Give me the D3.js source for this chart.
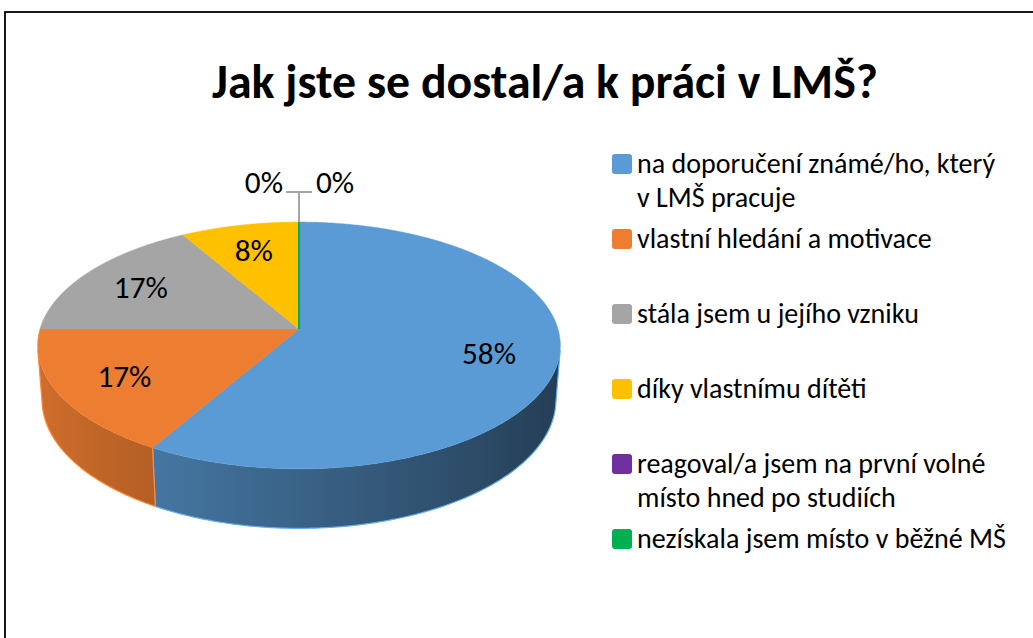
<!DOCTYPE html>
<html>
<head>
<meta charset="utf-8">
<script src="https://cdn.jsdelivr.net/npm/d3@7"></script>
<style>
  body { margin: 0; background: #fff; }
  svg { display: block; }
</style>
</head>
<body>
<svg id="chart" width="1033" height="638"></svg>
<script>
// chart data
var title = 'Jak jste se dostal/a k práci v LMŠ?';
var categories = [
  'na doporučení známé/ho, který\nv LMŠ pracuje',
  'vlastní hledání a motivace',
  'stála jsem u jejího vzniku',
  'díky vlastnímu dítěti',
  'reagoval/a jsem na první volné\nmísto hned po studiích',
  'nezískala jsem místo v běžné MŠ'
];
var counts = [7, 2, 2, 1, 0, 0];
var colors = ['#5b9bd5', '#ed7d31', '#a5a5a5', '#ffc000', '#7030a0', '#00b050'];

var FONT = 'Carlito, Lato, "Open Sans", sans-serif';
var svg = d3.select('#chart');
var defs = svg.append('defs');

// chart frame (runs off the right and bottom edge)
svg.append('rect')
  .attr('x', 5).attr('y', 12)
  .attr('width', 1100).attr('height', 700)
  .attr('fill', '#fff')
  .attr('stroke', '#000')
  .attr('stroke-width', 1.8);

// scale text so it spans a given width
function fitText (sel, target) {
  var w = sel.node().getComputedTextLength();
  var fs = parseFloat(sel.attr('font-size'));
  sel.attr('font-size', fs * target / w);
}

// title
var titleText = svg.append('text')
  .attr('x', 545).attr('y', 98)
  .attr('text-anchor', 'middle')
  .attr('font-family', FONT)
  .attr('font-weight', 'bold')
  .attr('font-size', 40)
  .attr('fill', '#000')
  .text(title);
fitText(titleText, 666);

// 3d pie projection
var tilt = 27.9 * Math.PI / 180;
var cosA = Math.cos(tilt), sinA = Math.sin(tilt);
var camDist = 6.62;
var thick = 0.24;
var xScale = d3.scaleLinear().domain([-1, 1]).range([40, 558]);
var yScale = d3.scaleLinear().domain([-1, 1]).range([588, 70]);

function project (theta, r, h) {
  var X = r * Math.sin(theta), Z = -r * Math.cos(theta), Y = h;
  var up = Y * cosA - Z * sinA;
  var depth = Y * sinA + Z * cosA;
  var f = camDist / (camDist - depth);
  return [xScale(X * f), yScale(up * f)];
}

// side shading, lit from the left
function shade (base, theta) {
  var f = 0.636 - 0.25 * Math.sin(theta);
  return d3.rgb(base.r * f, base.g * f, base.b * f).formatHex();
}

var pie = d3.pie().sort(null).value(function (d) { return d; });
var arcs = pie(counts);
var total = d3.sum(counts);
var pct = d3.format('.0%');
var line = d3.line();
var step = Math.PI / 360;

// visible part of the outer wall
var visMin = Math.acos(-1 / (camDist * cosA));
var visMax = 2 * Math.PI - visMin;

var walls = svg.append('g');
arcs.forEach(function (a, i) {
  var s = Math.max(a.startAngle, visMin), e = Math.min(a.endAngle, visMax);
  if (e <= s) return;
  var base = d3.rgb(colors[i]);
  var n = Math.ceil((e - s) / step);
  var topPts = [], botPts = [];
  for (var k = 0; k <= n; k++) {
    var t = s + (e - s) * k / n;
    topPts.push(project(t, 1, 0));
    botPts.push(project(t, 1, -thick));
  }
  // gradient along x following the shading
  var xs = topPts.map(function (p) { return p[0]; });
  var x0 = d3.min(xs), x1 = d3.max(xs);
  var grad = defs.append('linearGradient')
    .attr('id', 'wall' + i)
    .attr('gradientUnits', 'userSpaceOnUse')
    .attr('x1', x0).attr('x2', x1)
    .attr('y1', 0).attr('y2', 0);
  var stops = [];
  for (var k3 = 0; k3 <= n; k3 += 4) {
    var tt = s + (e - s) * k3 / n;
    stops.push({ o: (topPts[k3][0] - x0) / (x1 - x0 || 1), c: shade(base, tt) });
  }
  stops.sort(function (p, q) { return p.o - q.o; });
  grad.selectAll('stop').data(stops).enter().append('stop')
    .attr('offset', function (d) { return d.o; })
    .attr('stop-color', function (d) { return d.c; });
  walls.append('path')
    .attr('d', line(topPts.concat(botPts.slice().reverse())) + 'Z')
    .attr('fill', 'url(#wall' + i + ')');
  // wall outline
  walls.append('path')
    .attr('d', line([topPts[0]].concat(botPts, [topPts[n]])))
    .attr('fill', 'none')
    .attr('stroke', base.brighter(0.3).formatHex())
    .attr('stroke-width', 1.2);
});

// top faces
var tops = svg.append('g');
arcs.forEach(function (a, i) {
  if (a.endAngle - a.startAngle < 1e-6) return;
  var pts = [project(0, 0, 0)];
  var n = Math.ceil((a.endAngle - a.startAngle) / step);
  for (var k = 0; k <= n; k++) {
    pts.push(project(a.startAngle + (a.endAngle - a.startAngle) * k / n, 1, 0));
  }
  tops.append('path')
    .attr('d', line(pts) + 'Z')
    .attr('fill', colors[i])
    .attr('stroke', colors[i])
    .attr('stroke-width', 0.5);
});
// zero slices drawn as thin lines
arcs.forEach(function (a, i) {
  if (a.endAngle - a.startAngle >= 1e-6) return;
  tops.append('path')
    .attr('d', line([project(0, 0, 0), project(a.startAngle, 1, 0)]))
    .attr('stroke', colors[i])
    .attr('stroke-width', 2);
});

// data labels
var labels = svg.append('g')
  .attr('font-family', FONT)
  .attr('fill', '#000');
var labelSize = 28;
var probe = labels.append('text').attr('font-size', labelSize).text('58%');
labelSize = labelSize * 54 / probe.node().getComputedTextLength();
probe.remove();

var zeroIdx = [];
arcs.forEach(function (a, i) {
  if (counts[i] === 0) { zeroIdx.push(i); return; }
  var p = project((a.startAngle + a.endAngle) / 2, 0.74, 0);
  labels.append('text')
    .attr('x', p[0]).attr('y', p[1] + labelSize * 0.36)
    .attr('text-anchor', 'middle')
    .attr('font-size', labelSize)
    .text(pct(counts[i] / total));
});

// leader for the zero slices
if (zeroIdx.length) {
  var rim = project(arcs[zeroIdx[0]].startAngle, 1, 0);
  var ly = rim[1] - 30;
  svg.append('path')
    .attr('d', line([[rim[0], rim[1]], [rim[0], ly]]) + line([[rim[0] - 13, ly], [rim[0] + 13, ly]]))
    .attr('fill', 'none')
    .attr('stroke', '#a6a6a6')
    .attr('stroke-width', 2);
  zeroIdx.forEach(function (i, j) {
    labels.append('text')
      .attr('x', j === 0 ? rim[0] - 16 : rim[0] + 17)
      .attr('y', ly + 1)
      .attr('text-anchor', j === 0 ? 'end' : 'start')
      .attr('font-size', labelSize)
      .text(pct(counts[i] / total));
  });
}

// legend
var legendY = d3.scalePoint().domain(d3.range(categories.length)).range([164, 539]);
var legend = svg.append('g')
  .attr('font-family', FONT)
  .attr('fill', '#000');
var legendSize = 22;
var probe2 = legend.append('text').attr('font-size', legendSize).text(categories[5]);
legendSize = legendSize * 369 / probe2.node().getComputedTextLength();
probe2.remove();

categories.forEach(function (cat, i) {
  var y = legendY(i);
  legend.append('rect')
    .attr('x', 612).attr('y', y - 10)
    .attr('width', 20).attr('height', 20)
    .attr('rx', 3)
    .attr('fill', colors[i]);
  var t = legend.append('text')
    .attr('x', 637).attr('y', y + 9)
    .attr('font-size', legendSize);
  cat.split('\n').forEach(function (ln, k) {
    t.append('tspan')
      .attr('x', 637)
      .attr('dy', k === 0 ? 0 : 34)
      .text(ln);
  });
});
</script>
</body>
</html>
